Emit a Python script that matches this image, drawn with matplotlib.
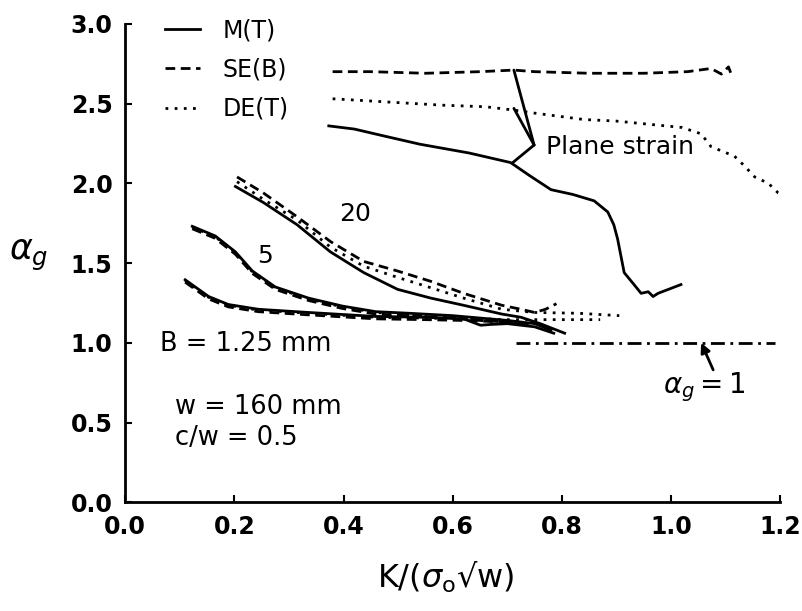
import matplotlib
matplotlib.use('Agg')
import matplotlib.pyplot as plt

plt.rcParams['font.family'] = 'DejaVu Sans'
plt.rcParams['mathtext.fontset'] = 'dejavusans'

# plane strain curves
ps_mt_x = [0.373, 0.42, 0.47, 0.54, 0.63, 0.706, 0.74, 0.78, 0.82, 0.859, 0.884, 0.895, 0.902, 0.914, 0.932, 0.945, 0.958, 0.967, 0.976, 1.018]
ps_mt_y = [2.36, 2.34, 2.30, 2.245, 2.19, 2.13, 2.05, 1.96, 1.93, 1.89, 1.82, 1.74, 1.65, 1.44, 1.365, 1.31, 1.32, 1.29, 1.31, 1.365]
ps_se_x = [0.38, 0.45, 0.55, 0.65, 0.712, 0.75, 0.85, 0.95, 1.03, 1.073, 1.092, 1.105, 1.11]
ps_se_y = [2.70, 2.70, 2.69, 2.70, 2.71, 2.70, 2.69, 2.69, 2.70, 2.72, 2.685, 2.73, 2.685]
ps_de_x = [0.38, 0.48, 0.58, 0.66, 0.71, 0.75, 0.84, 0.90, 0.96, 1.02, 1.055, 1.073, 1.116, 1.134, 1.153, 1.178, 1.196, 1.217]
ps_de_y = [2.53, 2.51, 2.49, 2.48, 2.46, 2.44, 2.40, 2.39, 2.37, 2.35, 2.31, 2.23, 2.17, 2.11, 2.04, 2.00, 1.94, 1.91]

# B = 1.25 mm, 20
mt20_x = [0.202, 0.253, 0.315, 0.376, 0.437, 0.499, 0.56, 0.62, 0.69, 0.725, 0.76, 0.79, 0.805]
mt20_y = [1.98, 1.88, 1.74, 1.57, 1.44, 1.335, 1.28, 1.235, 1.18, 1.16, 1.12, 1.08, 1.06]
se20_x = [0.205, 0.253, 0.315, 0.376, 0.437, 0.499, 0.56, 0.62, 0.69, 0.725, 0.75, 0.77, 0.79]
se20_y = [2.04, 1.94, 1.79, 1.635, 1.51, 1.45, 1.385, 1.31, 1.235, 1.21, 1.19, 1.21, 1.245]
de20_x = [0.205, 0.253, 0.315, 0.376, 0.437, 0.499, 0.56, 0.62, 0.69, 0.75, 0.83, 0.905]
de20_y = [2.01, 1.90, 1.77, 1.60, 1.48, 1.41, 1.345, 1.28, 1.21, 1.19, 1.185, 1.17]

# 5
mt5_x = [0.123, 0.165, 0.202, 0.233, 0.275, 0.336, 0.398, 0.459, 0.52, 0.6, 0.65, 0.70, 0.75, 0.78]
mt5_y = [1.73, 1.67, 1.57, 1.45, 1.35, 1.28, 1.23, 1.195, 1.185, 1.17, 1.155, 1.14, 1.12, 1.08]
se5_x = [0.123, 0.165, 0.202, 0.233, 0.275, 0.336, 0.398, 0.459, 0.52, 0.6, 0.65, 0.70, 0.75]
se5_y = [1.715, 1.655, 1.555, 1.435, 1.335, 1.265, 1.215, 1.18, 1.17, 1.155, 1.14, 1.13, 1.11]
de5_x = [0.123, 0.165, 0.202, 0.233, 0.275, 0.336, 0.398, 0.459, 0.52, 0.6, 0.69, 0.78, 0.87]
de5_y = [1.725, 1.665, 1.565, 1.445, 1.345, 1.275, 1.225, 1.19, 1.175, 1.16, 1.145, 1.145, 1.145]

# 1
mt1_x = [0.11, 0.153, 0.189, 0.244, 0.336, 0.459, 0.55, 0.62, 0.651, 0.67, 0.70, 0.75, 0.785]
mt1_y = [1.395, 1.29, 1.24, 1.21, 1.19, 1.165, 1.16, 1.15, 1.11, 1.115, 1.12, 1.10, 1.06]
se1_x = [0.11, 0.153, 0.189, 0.244, 0.336, 0.459, 0.55, 0.62, 0.70, 0.74]
se1_y = [1.38, 1.275, 1.225, 1.195, 1.175, 1.15, 1.145, 1.14, 1.13, 1.11]
de1_x = [0.11, 0.153, 0.189, 0.244, 0.336, 0.459, 0.55, 0.62, 0.70]
de1_y = [1.39, 1.285, 1.235, 1.205, 1.185, 1.16, 1.155, 1.15, 1.14]

# alpha_g = 1 reference
ref_x = [0.716, 1.19]
ref_y = [1.0, 1.0]

dash = (0, (3.5, 2))
dot = (0, (1, 2.3))
lw = 2

fig = plt.figure(figsize=(8.02, 6.11), dpi=100)
ax = fig.add_axes([0.156, 0.178, 0.817, 0.783])

ax.plot(ps_mt_x, ps_mt_y, color='k', lw=lw, label='M(T)')
ax.plot(ps_se_x, ps_se_y, color='k', ls=dash, lw=lw, label='SE(B)')
ax.plot(ps_de_x, ps_de_y, color='k', ls=dot, lw=lw, label='DE(T)')

for xs, ys in [(mt20_x, mt20_y), (mt5_x, mt5_y), (mt1_x, mt1_y)]:
    ax.plot(xs, ys, color='k', lw=lw)
for xs, ys in [(se20_x, se20_y), (se5_x, se5_y), (se1_x, se1_y)]:
    ax.plot(xs, ys, color='k', ls=dash, lw=lw)
for xs, ys in [(de20_x, de20_y), (de5_x, de5_y), (de1_x, de1_y)]:
    ax.plot(xs, ys, color='k', ls=dot, lw=lw)

ax.plot(ref_x, ref_y, color='k', ls=(0, (5, 2, 1, 2)), lw=lw)

ax.legend(loc='upper left', bbox_to_anchor=(0.061, 1.012), frameon=False,
          fontsize=17, handlelength=1.5, handletextpad=0.93, labelspacing=0.65,
          borderpad=0, borderaxespad=0)

# plane strain pointer lines
hub = (0.749, 2.24)
for tip in [(0.712, 2.71), (0.712, 2.47), (0.71, 2.13)]:
    ax.annotate('', xy=tip, xytext=hub,
                arrowprops=dict(arrowstyle='-', lw=2, color='k', shrinkA=0, shrinkB=0))
ax.text(0.77, 2.23, 'Plane strain', fontsize=18, va='center', ha='left')

ax.annotate('', xy=(1.055, 1.0), xytext=(1.077, 0.83),
            arrowprops=dict(arrowstyle='-|>', lw=2, color='k', mutation_scale=14,
                            shrinkA=0, shrinkB=0))
ax.text(1.06, 0.72, r'$\alpha_g = 1$', fontsize=20, ha='center', va='center')

ax.text(0.422, 1.805, '20', fontsize=18, ha='center', va='center')
ax.text(0.257, 1.547, '5', fontsize=18, ha='center', va='center')

ax.text(0.064, 0.99, 'B = 1.25 mm', fontsize=18.5, va='center')
ax.text(0.092, 0.60, 'w = 160 mm', fontsize=18.5, va='center')
ax.text(0.092, 0.40, 'c/w = 0.5', fontsize=18.5, va='center')

ax.set_xlim(0, 1.2)
ax.set_ylim(0, 3.0)
ax.set_xticks([0.0, 0.2, 0.4, 0.6, 0.8, 1.0, 1.2])
ax.set_yticks([0.0, 0.5, 1.0, 1.5, 2.0, 2.5, 3.0])
ax.spines['top'].set_visible(False)
ax.spines['right'].set_visible(False)
ax.spines['left'].set_linewidth(2)
ax.spines['bottom'].set_linewidth(2)
ax.tick_params(direction='in', length=5, width=1.5, labelsize=17, pad=9)
for lbl in ax.get_xticklabels() + ax.get_yticklabels():
    lbl.set_fontweight('bold')

ax.set_xlabel('K/($\\sigma_{\\rm o}$√w)', fontsize=23)
ax.xaxis.set_label_coords(0.489, -0.12)
ax.set_ylabel(r'$\alpha_g$', fontsize=25, rotation=0, ha='center', va='center')
ax.yaxis.set_label_coords(-0.147, 0.515)

fig.savefig('out.png', dpi=100)
